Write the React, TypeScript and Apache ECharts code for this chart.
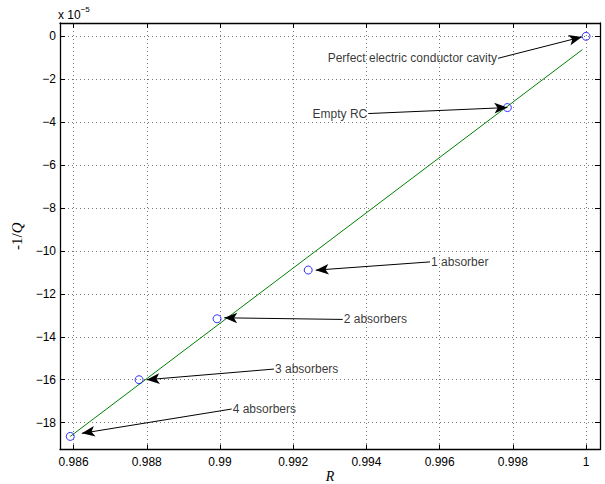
import React, { useEffect, useRef } from 'react';
import * as echarts from 'echarts';

// Measured points (R, -1/Q in units of 1e-5)
const rValues = [0.98591, 0.98779, 0.98992, 0.99241, 0.99785, 1.0];
const qValues = [-18.64, -16.0, -13.16, -10.89, -3.32, 0];

// Fitted straight line
const fitR = [0.98591, 0.9999];
const fitQ = [-18.64, -0.62];

// Annotations: text, tail (text anchor) and head (arrow tip)
const annoText = ['4 absorbers', '3 absorbers', '2 absorbers', '1 absorber', 'Empty RC', 'Perfect electric conductor cavity'];
const annoSide = ['right', 'right', 'right', 'right', 'left', 'left'];
const annoTailR = [0.990318, 0.991474, 0.993352, 0.995738, 0.994051, 0.997596];
const annoTailQ = [-17.365, -15.503, -13.19, -10.51, -3.599, -1.024];
const annoHeadR = [0.986227, 0.987995, 0.990116, 0.992614, 0.99785, 0.999884];
const annoHeadQ = [-18.497, -16.0, -13.115, -10.894, -3.319, -0.03];

// Ticks
const xTicks = [0.986, 0.988, 0.99, 0.992, 0.994, 0.996, 0.998, 1];
const xTickLabels = ['0.986', '0.988', '0.99', '0.992', '0.994', '0.996', '0.998', '1'];
const yTicks = [0, -2, -4, -6, -8, -10, -12, -14, -16, -18];
const yTickLabels = ['0', '\u22122', '\u22124', '\u22126', '\u22128', '\u221210', '\u221212', '\u221214', '\u221216', '\u221218'];

const xMin = 0.98563;
const xMax = 1.00038;
const yMin = -19.25;
const yMax = 0.62;

const SANS = '"Liberation Sans", Arial, Helvetica, sans-serif';
const SERIF = '"Liberation Serif", "Times New Roman", serif';

function lookup(ticks: number[], labels: string[], v: number) {
  const i = ticks.findIndex((t) => Math.abs(t - v) < 1e-9);
  return i >= 0 ? labels[i] : '';
}

export default function App() {
  const ref = useRef<HTMLDivElement>(null);
  useEffect(() => {
    const chart = echarts.init(ref.current!, null, { renderer: 'svg' });
    const axisLineStyle = { color: '#000', width: 1.3 };
    const option: any = {
      animation: false,
      backgroundColor: '#fff',
      grid: { left: 60, right: 5, top: 23, bottom: 34.5, containLabel: false, outerBoundsMode: 'none' },
      xAxis: [
        {
          type: 'value', min: xMin, max: xMax, position: 'bottom',
          axisLine: { show: true, onZero: false, lineStyle: axisLineStyle },
          axisTick: { show: true, inside: true, length: 5, customValues: xTicks, lineStyle: { color: '#000', width: 1 } },
          axisLabel: { show: true, customValues: xTicks, margin: 6, color: '#000', fontSize: 12, fontFamily: SANS,
            formatter: (v: number) => lookup(xTicks, xTickLabels, v) },
          splitLine: { show: true, lineStyle: { type: [1, 3], color: '#777', width: 1 } },
          name: 'R', nameLocation: 'middle', nameGap: 20, nameMoveOverlap: false,
          nameTextStyle: { fontFamily: SERIF, fontStyle: 'italic', fontSize: 14, lineHeight: 14, color: '#000' },
        },
        {
          type: 'value', min: xMin, max: xMax, position: 'top',
          axisLine: { show: true, onZero: false, lineStyle: axisLineStyle },
          axisTick: { show: true, inside: true, length: 5, customValues: xTicks, lineStyle: { color: '#000', width: 1 } },
          axisLabel: { show: false },
          splitLine: { show: false },
        },
      ],
      yAxis: [
        {
          type: 'value', min: yMin, max: yMax, position: 'left',
          axisLine: { show: true, onZero: false, lineStyle: axisLineStyle },
          axisTick: { show: true, inside: true, length: 5, customValues: yTicks, lineStyle: { color: '#000', width: 1 } },
          axisLabel: { show: true, customValues: yTicks, margin: 4, color: '#000', fontSize: 12, fontFamily: SANS,
            formatter: (v: number) => lookup(yTicks, yTickLabels, v) },
          splitLine: { show: true, lineStyle: { type: [1, 3], color: '#777', width: 1 } },
          name: '{a|-1/}{b|Q}', nameLocation: 'middle', nameGap: 36, nameRotate: 90,
          nameTextStyle: {
            color: '#000',
            rich: {
              a: { fontFamily: SERIF, fontSize: 15, color: '#000' },
              b: { fontFamily: SERIF, fontSize: 15, fontStyle: 'italic', color: '#000' },
            },
          },
        },
        {
          type: 'value', min: yMin, max: yMax, position: 'right',
          axisLine: { show: true, onZero: false, lineStyle: axisLineStyle },
          axisTick: { show: true, inside: true, length: 5, customValues: yTicks, lineStyle: { color: '#000', width: 1 } },
          axisLabel: { show: false },
          splitLine: { show: false },
        },
      ],
      graphic: [
        {
          type: 'text', left: 58, top: 5,
          style: {
            text: '{a|x 10}{b|\u22125}',
            rich: {
              a: { fontFamily: SANS, fontSize: 12, fill: '#000', padding: [6, 0, 0, 0] },
              b: { fontFamily: SANS, fontSize: 8, fill: '#000', padding: [0, 0, 6, 0] },
            },
          },
        },
      ],
      series: [
        {
          name: 'fit', type: 'line', xAxisIndex: 0, yAxisIndex: 0,
          data: fitR.map((r, i) => [r, fitQ[i]]),
          symbol: 'none', lineStyle: { color: '#008000', width: 1 }, silent: true, z: 3,
        },
        {
          name: 'measured', type: 'scatter', xAxisIndex: 0, yAxisIndex: 0,
          data: rValues.map((r, i) => [r, qValues[i]]),
          symbol: 'circle', symbolSize: 8,
          itemStyle: { color: 'rgba(0,0,0,0)', borderColor: '#0000ff', borderWidth: 1 },
          silent: true, z: 4,
        },
        {
          name: 'annotations', type: 'scatter', xAxisIndex: 0, yAxisIndex: 0,
          data: annoText.map((t, i) => ({
            name: t, value: [annoTailR[i], annoTailQ[i]],
            label: { position: annoSide[i] },
          })),
          symbolSize: 0.01, itemStyle: { color: 'rgba(0,0,0,0)' },
          label: { show: true, formatter: '{b}', distance: 1, color: '#000', fontSize: 12, fontFamily: SANS },
          silent: true, z: 5,
          markLine: {
            silent: true, animation: false,
            symbol: ['none', 'arrow'], symbolSize: [8, 13],
            lineStyle: { color: '#000', width: 1, type: 'solid' },
            label: { show: false },
            data: annoText.map((t, i) => [
              { coord: [annoTailR[i], annoTailQ[i]] },
              { coord: [annoHeadR[i], annoHeadQ[i]] },
            ]),
          },
        },
      ],
    };
    chart.setOption(option);
    return () => chart.dispose();
  }, []);
  return <div ref={ref} style={{ position: 'fixed', left: 0, top: 0, width: 605, height: 484 }} />;
}
